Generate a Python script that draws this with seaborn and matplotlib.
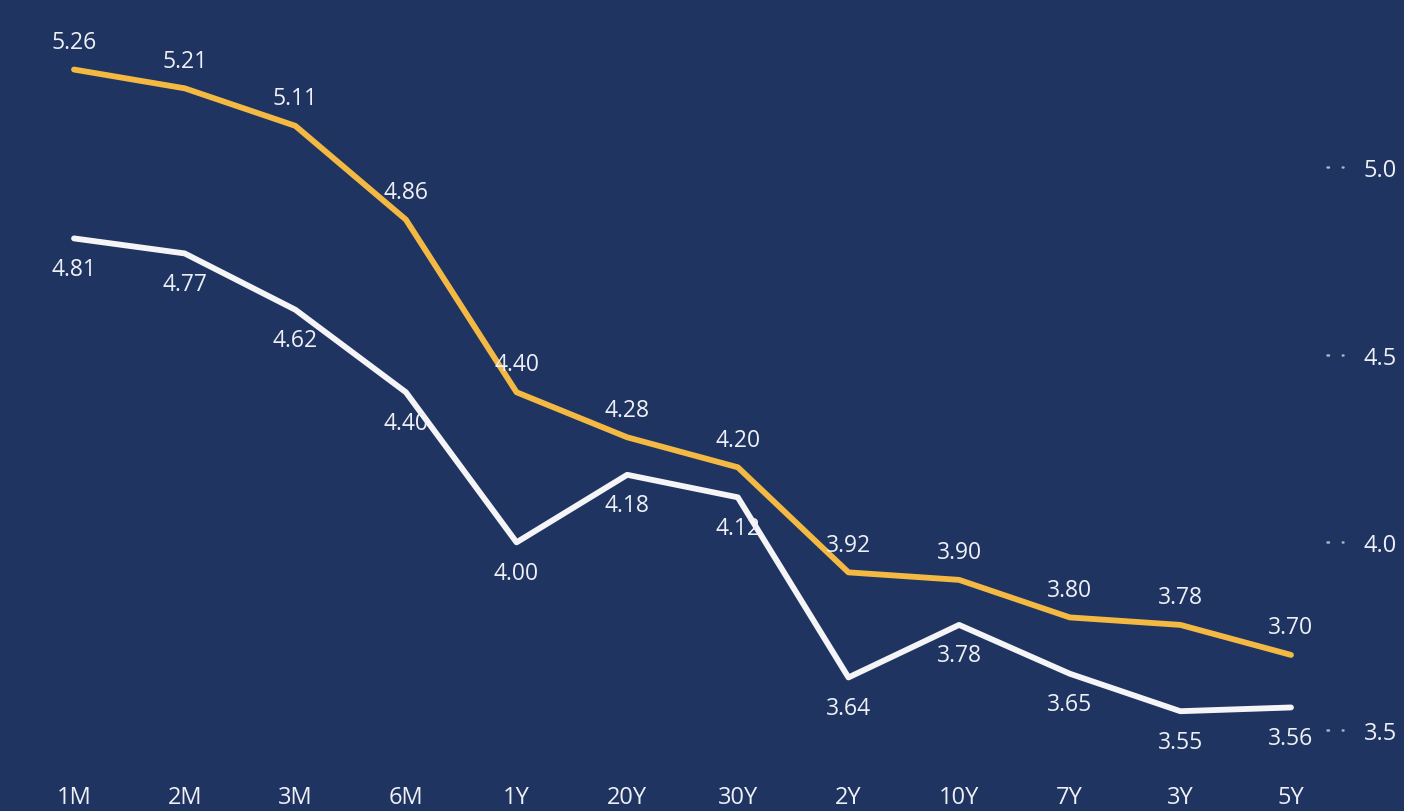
import matplotlib.pyplot as plt
import seaborn as sns
import pandas as pd

# tenors in the order shown
tenors = ["1M", "2M", "3M", "6M", "1Y", "20Y", "30Y", "2Y", "10Y", "7Y", "3Y", "5Y"]
orange_vals = [5.26, 5.21, 5.11, 4.86, 4.40, 4.28, 4.20, 3.92, 3.90, 3.80, 3.78, 3.70]
white_vals = [4.81, 4.77, 4.62, 4.40, 4.00, 4.18, 4.12, 3.64, 3.78, 3.65, 3.55, 3.56]
yticks = [3.5, 4.0, 4.5, 5.0]

bg = "#1f3461"
orange = "#f4b942"
white = "#f5f5f7"
txt = "#eef0f5"

sns.set_style("dark")
plt.rcParams["font.family"] = ["Open Sans", "DejaVu Sans"]

df = pd.DataFrame({"tenor": tenors, "orange": orange_vals, "white": white_vals})

fig = plt.figure(figsize=(14.04, 8.12), dpi=100, facecolor=bg)
ax = fig.add_axes([0, 37 / 812, 1322 / 1404, 775 / 812])
ax.set_facecolor(bg)

sns.lineplot(data=df, x="tenor", y="white", ax=ax, color=white, lw=4.2, sort=False)
sns.lineplot(data=df, x="tenor", y="orange", ax=ax, color=orange, lw=4.2, sort=False)

# value labels
for i, (o, w) in enumerate(zip(orange_vals, white_vals)):
    ax.annotate(f"{o:.2f}", (i, o), xytext=(0, 20), textcoords="offset points",
                ha="center", va="center", color=txt, fontsize=16.5)
    ax.annotate(f"{w:.2f}", (i, w), xytext=(0, -22), textcoords="offset points",
                ha="center", va="center", color=txt, fontsize=16.5)

ax.set_xlim(-74 / 110.6, 11 + 31 / 110.6)
ax.set_ylim(3.5 - 44 / 375, 5.0 + 168 / 375)
ax.set_yticks(yticks)
ax.set_yticklabels([f"{v:.1f}" for v in yticks])
ax.yaxis.tick_right()
ax.tick_params(axis="y", length=0, pad=30, labelsize=17, labelcolor=txt)
ax.tick_params(axis="x", length=0, pad=8, labelsize=17, labelcolor=txt)
ax.set_xlabel("")
ax.set_ylabel("")
ax.grid(False)
for s in ax.spines.values():
    s.set_visible(False)

# small dotted stubs next to the right axis labels
for v in yticks:
    ax.plot([1.004, 1.016], [v, v], transform=ax.get_yaxis_transform(), clip_on=False,
            color="#aab4ca", lw=1.8, ls=(0, (0.6, 5.5)), dash_capstyle="round")

fig.savefig("out.png", dpi=100, facecolor=bg)
